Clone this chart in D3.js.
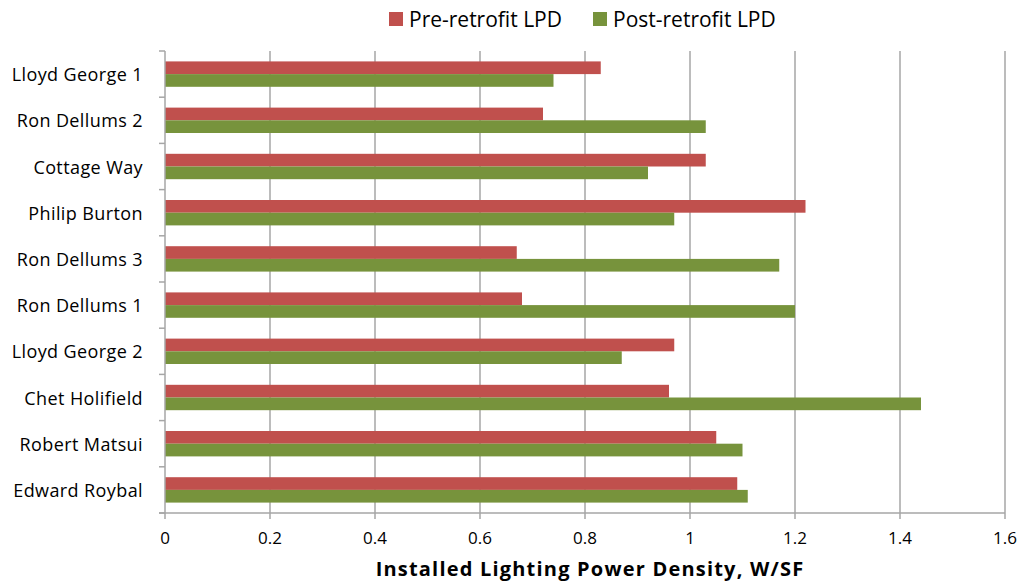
<!DOCTYPE html>
<html><head><meta charset="utf-8">
<script src="https://cdn.jsdelivr.net/npm/d3@7"></script>
<style>body{margin:0;background:#fff}svg{display:block}text{font-family:"Open Sans",sans-serif;fill:#000}</style>
</head><body><svg id="c" width="1021" height="583"></svg>
<script>
const categories = ["Lloyd George 1","Ron Dellums 2","Cottage Way","Philip Burton","Ron Dellums 3","Ron Dellums 1","Lloyd George 2","Chet Holifield","Robert Matsui","Edward Roybal"];
const preRetrofit = [0.83,0.72,1.03,1.22,0.67,0.68,0.97,0.96,1.05,1.09];
const postRetrofit = [0.74,1.03,0.92,0.97,1.17,1.20,0.87,1.44,1.10,1.11];
const xTicks = [0,0.2,0.4,0.6,0.8,1,1.2,1.4,1.6];
const seriesNames = ["Pre-retrofit LPD","Post-retrofit LPD"];
const colors = ["#C0504D","#77933C"];

const svg = d3.select("#c");
const L=165,R=1005,T=51,B=513;
const x = d3.scaleLinear().domain([0,1.6]).range([L,R]);
const y = d3.scaleBand().domain(categories).range([T,B]);
const inner = d3.scaleBand().domain([0,1]).range([0,y.bandwidth()]).paddingOuter(0.82).paddingInner(0);

svg.append("g").selectAll("line").data(xTicks.slice(1)).join("line")
  .attr("x1",d=>x(d)).attr("x2",d=>x(d)).attr("y1",T).attr("y2",B+6)
  .attr("stroke","#A6A6A6").attr("stroke-width",1.5);

const g = svg.append("g");
categories.forEach((c,i)=>{
  [preRetrofit[i],postRetrofit[i]].forEach((v,j)=>{
    g.append("rect").attr("x",x(0)).attr("y",y(c)+inner(j))
      .attr("width",x(v)-x(0)).attr("height",inner.bandwidth())
      .attr("fill",colors[j]);
  });
});

svg.append("line").attr("x1",L).attr("x2",L).attr("y1",T).attr("y2",B).attr("stroke","#A6A6A6").attr("stroke-width",1.5);
svg.append("g").selectAll("line").data(d3.range(categories.length+1)).join("line")
  .attr("x1",L-6).attr("x2",L).attr("y1",i=>T+i*y.step()).attr("y2",i=>T+i*y.step())
  .attr("stroke","#A6A6A6").attr("stroke-width",1.5);
svg.append("line").attr("x1",L-6).attr("x2",R).attr("y1",B).attr("y2",B).attr("stroke","#A6A6A6").attr("stroke-width",1.5);
svg.append("line").attr("x1",L).attr("x2",L).attr("y1",B).attr("y2",B+6).attr("stroke","#A6A6A6").attr("stroke-width",1.5);

svg.append("g").selectAll("text").data(categories).join("text")
  .attr("x",143).attr("y",d=>y(d)+y.bandwidth()/2+7).attr("text-anchor","end")
  .attr("font-size",18).attr("letter-spacing",0.4).text(d=>d);

svg.append("g").selectAll("text").data(xTicks).join("text")
  .attr("x",d=>x(d)).attr("y",544).attr("text-anchor","middle").attr("font-size",17)
  .text(d=>d3.format("")(d));

svg.append("text").attr("x",590).attr("y",576).attr("text-anchor","middle")
  .attr("font-size",20).attr("font-weight","bold").attr("letter-spacing",1.2).text("Installed Lighting Power Density, W/SF");

const lg = svg.append("g");
const lx=[389,593];
seriesNames.forEach((n,j)=>{
  lg.append("rect").attr("x",lx[j]).attr("y",12).attr("width",14).attr("height",14).attr("fill",colors[j]);
  lg.append("text").attr("x",lx[j]+20).attr("y",27).attr("font-size",21).text(n);
});
</script></body></html>
